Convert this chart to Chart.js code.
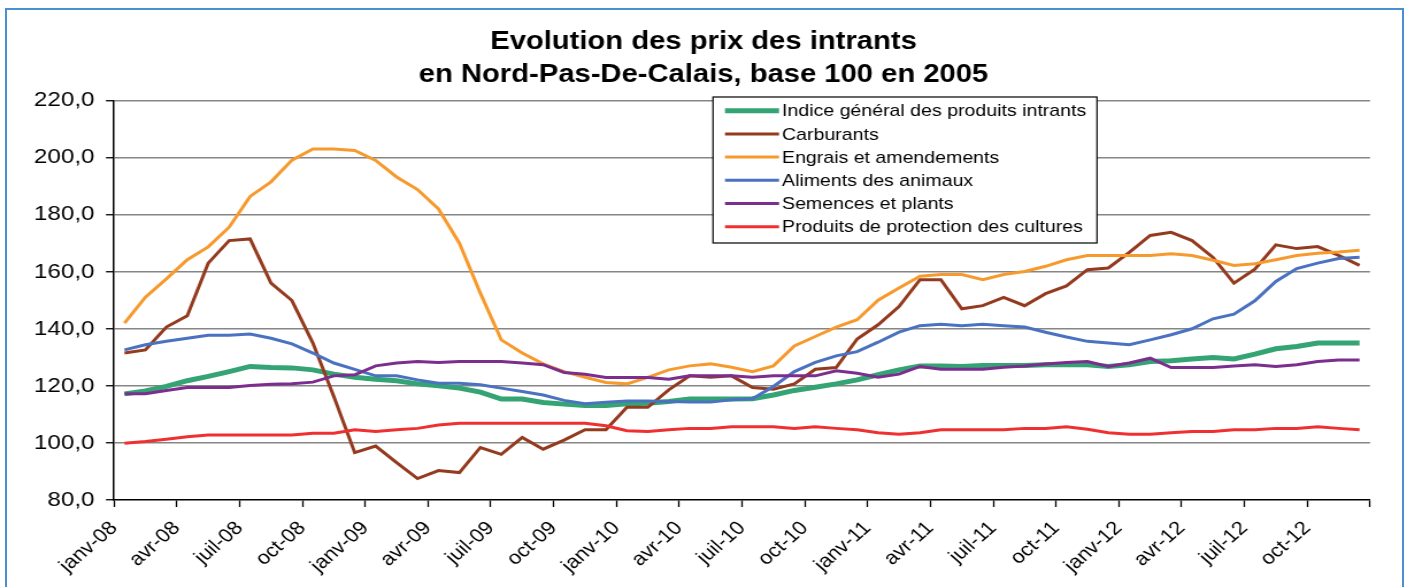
<!DOCTYPE html>
<html><head><meta charset="utf-8">
<script src="https://cdn.jsdelivr.net/npm/chart.js@4"></script>
<style>
html,body{margin:0;padding:0;width:1407px;height:587px;overflow:hidden;background:#fff;}
#wrap{position:absolute;left:0;top:0;width:1224px;height:587px;transform:scaleX(1.149510);transform-origin:0 0;}
#frame{position:absolute;left:5px;top:8px;right:3px;bottom:-20px;border:2px solid #4a90d0;pointer-events:none;box-sizing:border-box;}
</style></head><body>
<div id="wrap"><canvas id="c" width="1224" height="587"></canvas></div>
<div id="frame"></div>
<script>
// ---- data ----
const monthNames = ['janv','févr','mars','avr','mai','juin','juil','août','sept','oct','nov','déc'];
const years = ['08','09','10','11','12'];
const categories = years.flatMap(y => monthNames.map(m => m + '-' + y));

const seriesLabels = [
  'Indice général des produits intrants',
  'Carburants',
  'Engrais et amendements',
  'Aliments des animaux',
  'Semences et plants',
  'Produits de protection des cultures'
];

const indiceGeneral = [117.2,118.2,119.8,121.8,123.3,125,126.8,126.4,126.3,125.6,124.1,123,122.3,121.8,120.7,120,
  119.2,117.8,115.4,115.4,114.2,113.6,113.1,113.1,113.7,113.9,114.5,115.4,115.4,115.4,115.5,
  116.8,118.4,119.5,120.7,122.1,123.9,125.6,127,127,126.8,127.1,127.1,127.1,127.4,127.4,
  127.4,126.8,127.4,128.5,128.8,129.4,129.9,129.4,131.1,133,133.8,135,135,135];

const carburants = [131.5,132.6,140.6,144.6,163,170.9,171.5,156,149.9,135,116.3,96.6,98.9,93.1,87.5,90.3,
  89.6,98.4,96,101.9,97.8,101,104.6,104.6,112.5,112.5,118.6,123.5,123,123.5,119.4,
  118.8,120.7,125.8,126.4,136.4,141.4,147.8,157.2,157.2,147,148.1,151,148.1,152.3,155,
  160.7,161.3,166.8,172.7,173.8,170.9,165,156,160.9,169.4,168.1,168.8,165.7,162.2];

const engrais = [142,151.1,157.5,164.2,168.7,175.6,186.4,191.5,199.1,203,203,202.5,199,193.2,188.8,182,
  170,152.5,136.1,131.5,127.7,125,123,121.2,120.7,123,125.6,127,127.7,126.5,125,
  127,134,137.3,140.6,143.2,150,154.3,158.4,159,159,157.2,159,160.1,161.9,164.2,
  165.7,165.7,165.7,165.7,166.3,165.7,164,162.2,162.8,164.2,165.7,166.5,166.9,167.5];

const aliments = [132.6,134.4,135.6,136.7,137.7,137.7,138.2,136.7,134.7,131.5,128,125.8,123.5,123.5,122.1,120.9,
  120.9,120.4,119.2,118,116.8,114.9,113.7,114.3,114.7,114.7,114.5,114.3,114.3,115.1,115.5,
  119.8,125,128.2,130.5,132,135.3,138.8,141.1,141.6,141.1,141.6,141.1,140.6,138.8,137.1,
  135.6,135,134.4,136.1,137.9,140,143.5,145.1,149.8,156.6,161.1,163,164.6,165.1];

const semences = [117.2,117.2,118.4,119.4,119.4,119.4,120.1,120.6,120.7,121.3,123.5,123.9,127,128,128.5,128.2,
  128.5,128.5,128.5,128,127.4,124.7,124.1,122.9,122.9,122.9,122.3,123.5,123.5,123.5,123,
  123.5,123.5,123.5,125.3,124.4,123,124.1,126.8,125.8,125.8,125.8,126.5,127,127.7,128.2,
  128.5,126.8,128,129.7,126.4,126.4,126.4,127,127.4,126.8,127.4,128.5,129.1,129.1];

const protection = [99.9,100.5,101.3,102.2,102.8,102.8,102.8,102.8,102.8,103.4,103.4,104.6,104,104.6,105.1,106.3,
  106.9,106.9,106.9,106.9,106.9,106.9,106.9,106,104.3,104,104.6,105.1,105.1,105.7,105.7,
  105.7,105.1,105.7,105.1,104.6,103.6,103,103.6,104.6,104.6,104.6,104.6,105.1,105.1,105.7,
  104.8,103.6,103,103,103.6,104,104,104.6,104.6,105.1,105.1,105.7,105.1,104.6];

const yTickMin = 80, yTickMax = 220, yTickStep = 20;
const titleLines = ['Evolution des prix des intrants', 'en Nord-Pas-De-Calais, base 100 en 2005'];

// ---- styling ----
const S = 1407 / 1224;
const X = px => px / S;
const FONT = '"Liberation Sans", Arial, Helvetica, sans-serif';
const colors = ['#34a474', '#943b1f', '#f79a2e', '#4a72c0', '#7b2e8e', '#f03030'];
const widths = [5, 3, 3, 3, 3, 3];
const allValues = [indiceGeneral, carburants, engrais, aliments, semences, protection];

const legendPlugin = {
  id: 'boxLegend',
  afterDatasetsDraw(chart) {
    const c = chart.ctx;
    const L = X(713), T = 97, R = X(1097), B = 243;
    c.save();
    c.fillStyle = '#fff';
    c.fillRect(L, T, R - L, B - T);
    c.strokeStyle = '#000';
    c.lineWidth = 1.2;
    c.strokeRect(L, T, R - L, B - T);
    const y0 = 110.7, dy = 23.2;
    chart.data.datasets.forEach((ds, i) => {
      const y = y0 + i * dy;
      c.strokeStyle = ds.borderColor;
      c.lineWidth = ds.borderWidth;
      c.beginPath();
      c.moveTo(X(725), y);
      c.lineTo(X(779), y);
      c.stroke();
      c.fillStyle = '#000';
      c.font = '17px ' + FONT;
      c.textBaseline = 'middle';
      c.textAlign = 'left';
      c.fillText(ds.label, X(782), y + 1);
    });
    c.restore();
  }
};

const datasets = allValues.map((vals, k) => ({
  label: seriesLabels[k],
  data: vals.map((v, i) => ({ x: i + 0.5, y: v })),
  borderColor: colors[k],
  backgroundColor: colors[k],
  borderWidth: widths[k],
  pointRadius: 0,
  tension: 0,
  fill: false,
  order: allValues.length - k
}));

new Chart(document.getElementById('c'), {
  type: 'line',
  data: { datasets },
  options: {
    responsive: false,
    animation: false,
    devicePixelRatio: 1,
    layout: { padding: 0 },
    plugins: {
      legend: { display: false },
      tooltip: { enabled: false },
      title: {
        display: true,
        text: titleLines,
        color: '#000',
        font: { family: FONT, size: 25.4, weight: 'bold', lineHeight: 33 / 25.4 },
        padding: { top: 25.5, bottom: 9 }
      }
    },
    scales: {
      x: {
        type: 'linear',
        min: 0,
        max: categories.length,
        ticks: {
          stepSize: 3,
          autoSkip: false,
          maxRotation: 45,
          minRotation: 45,
          color: '#000',
          padding: 10,
          font: { family: FONT, size: 19 },
          callback: v => (v < categories.length && v % 3 === 0) ? categories[v] : ''
        },
        grid: { drawOnChartArea: false, drawTicks: true, tickLength: 7, tickColor: '#000', tickWidth: 1.3 },
        border: { display: true, color: '#000', width: 1.5 },
        afterFit: s => { s.height = 87; }
      },
      y: {
        min: yTickMin,
        max: yTickMax,
        ticks: {
          stepSize: yTickStep,
          color: '#000',
          padding: 10,
          font: { family: FONT, size: 21 },
          callback: v => v.toFixed(1).replace('.', ',')
        },
        grid: {
          color: ctx => (ctx.tick && ctx.tick.value === yTickMin) ? 'rgba(0,0,0,0)' : '#868686',
          lineWidth: 1.5,
          tickLength: 7,
          tickColor: '#000',
          tickWidth: 1.3
        },
        border: { display: true, color: '#000', width: 1.5 },
        afterFit: s => { s.width = X(114); }
      },
      yRight: {
        position: 'right',
        display: true,
        min: yTickMin,
        max: yTickMax,
        ticks: { display: false },
        grid: { display: false, drawOnChartArea: false, drawTicks: false },
        border: { display: false },
        afterFit: s => { s.width = 1224 - X(1370); }
      }
    }
  },
  plugins: [legendPlugin]
});
</script>
</body></html>
